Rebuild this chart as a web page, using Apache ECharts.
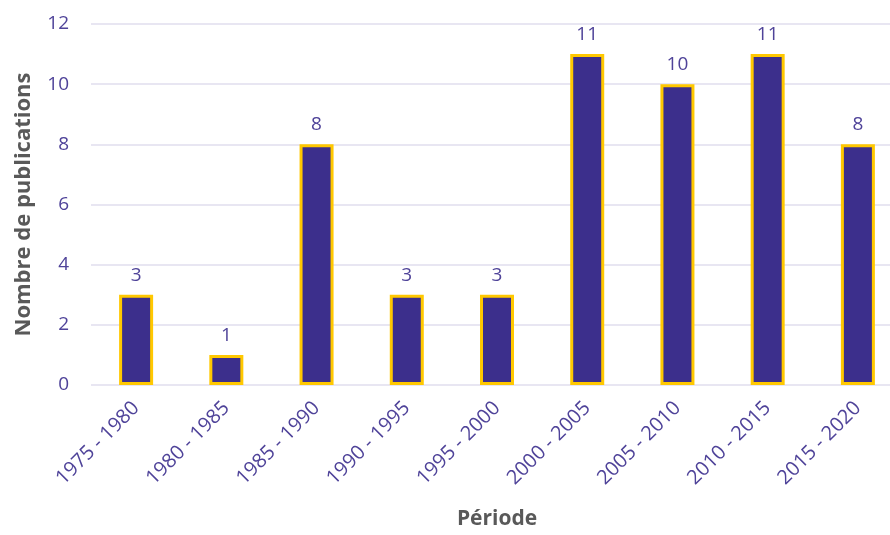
<!DOCTYPE html>
<html>
<head>
<meta charset="utf-8">
<script src="https://cdn.jsdelivr.net/npm/echarts@6/dist/echarts.min.js"></script>
<style>
  html, body { margin: 0; padding: 0; background: #fff; overflow: hidden; }
  #chart { width: 903px; height: 535px; }
</style>
</head>
<body>
<div id="chart"></div>
<script>
const periods = ["1975 - 1980", "1980 - 1985", "1985 - 1990", "1990 - 1995", "1995 - 2000",
  "2000 - 2005", "2005 - 2010", "2010 - 2015", "2015 - 2020"];
const publications = [3, 1, 8, 3, 3, 11, 10, 11, 8];
const yTicks = [0, 2, 4, 6, 8, 10, 12];

const textColor = "#4F4399";
const font = "'Open Sans', 'Noto Sans', sans-serif";

const myChart = echarts.init(document.getElementById("chart"));

const options = {
  animation: false,
  grid: {
    left: 91,
    right: 0,
    top: 24,
    bottom: 148,
    containLabel: false,
  },
  xAxis: {
    type: "category",
    data: periods,
    name: "Période",
    nameLocation: "middle",
    nameGap: 124,
    nameTextStyle: {
      color: "#595959",
      fontWeight: "bold",
      fontSize: 21,
      fontFamily: font,
    },
    axisLine: { show: false },
    axisTick: { show: false },
    axisLabel: {
      rotate: 45,
      color: textColor,
      fontSize: 20,
      fontFamily: font,
      margin: 20,
      interval: 0,
    },
  },
  yAxis: {
    type: "value",
    min: yTicks[0],
    max: yTicks[yTicks.length - 1],
    interval: 2,
    name: "Nombre de publications",
    nameLocation: "middle",
    nameGap: 56,
    nameTextStyle: {
      color: "#595959",
      fontWeight: "bold",
      fontSize: 22,
      fontFamily: font,
    },
    axisLine: { show: false },
    axisTick: { show: false },
    axisLabel: {
      color: textColor,
      fontSize: 19,
      fontFamily: font,
      margin: 22,
    },
    splitLine: {
      lineStyle: { color: "#E8E6F2", width: 2 },
    },
  },
  series: [
    {
      type: "bar",
      data: publications,
      barWidth: 34,
      itemStyle: {
        color: "#3C2F8C",
        borderColor: "#FFC800",
        borderWidth: 3,
      },
      label: {
        show: true,
        position: "top",
        distance: 10,
        color: textColor,
        fontSize: 19,
        fontFamily: font,
      },
    },
  ],
};
myChart.setOption(options);
</script>
</body>
</html>
